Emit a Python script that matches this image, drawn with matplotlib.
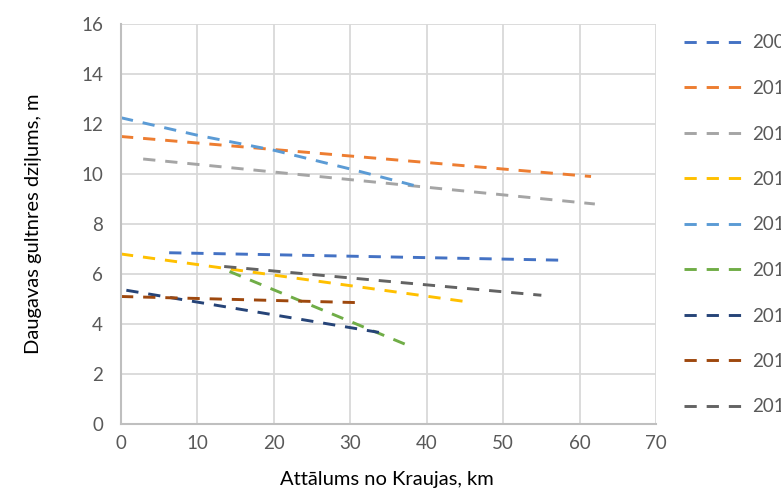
import matplotlib
matplotlib.use("Agg")
import matplotlib.pyplot as plt

plt.rcParams['font.family'] = ['Lato', 'DejaVu Sans']

# years in legend (text is cut off by the image edge, as in the original)
years = ["2009", "2010", "2011", "2012", "2013", "2014", "2015", "2016", "2017"]
colors = ["#4472C4", "#ED7D31", "#A5A5A5", "#FFC000", "#5B9BD5",
          "#70AD47", "#264478", "#9E480E", "#636363"]

# distance from Kraujas, km
x_2009 = [6.3, 58.0]
y_2009 = [6.85, 6.55]
x_2010 = [0, 61.5]
y_2010 = [11.5, 9.9]
x_2011 = [2.9, 62.0]
y_2011 = [10.6, 8.8]
x_2012 = [0, 45.0]
y_2012 = [6.8, 4.9]
x_2013 = [0, 10, 20, 30, 39.5]
y_2013 = [12.25, 11.55, 10.95, 10.2, 9.45]
x_2014 = [14.2, 38.3]
y_2014 = [6.1, 3.05]
x_2015 = [0.7, 35.0]
y_2015 = [5.35, 3.6]
x_2016 = [0, 31.6]
y_2016 = [5.1, 4.85]
x_2017 = [13.5, 55.0]
y_2017 = [6.3, 5.15]

xs = [x_2009, x_2010, x_2011, x_2012, x_2013, x_2014, x_2015, x_2016, x_2017]
ys = [y_2009, y_2010, y_2011, y_2012, y_2013, y_2014, y_2015, y_2016, y_2017]

fig = plt.figure(figsize=(7.81, 4.90), dpi=100)
ax = fig.add_axes([121/781, 66/490, 535/781, 400/490])

for xv, yv, c, lab in zip(xs, ys, colors, years):
    ax.plot(xv, yv, color=c, lw=2.1, dashes=(4.2, 3.4), label=lab)

ax.set_xlim(0, 70)
ax.set_ylim(0, 16)
ax.set_xticks(range(0, 71, 10))
ax.set_yticks(range(0, 17, 2))
ax.grid(True, color="#D9D9D9", lw=1.3)
ax.set_axisbelow(True)
for s in ["top", "right"]:
    ax.spines[s].set_visible(False)
for s in ["left", "bottom"]:
    ax.spines[s].set_color("#BFBFBF")
    ax.spines[s].set_linewidth(1.5)
ax.tick_params(length=0, labelsize=13.5, labelcolor="#595959")
ax.tick_params(axis="y", pad=13)
ax.tick_params(axis="x", pad=8)

ax.set_xlabel("Attālums no Kraujas, km", fontsize=14.5)
ax.set_ylabel("Daugavas gultnres dziļums, m", fontsize=14.5)
ax.xaxis.set_label_coords(0.497, -0.117)
ax.yaxis.set_label_coords(-0.148, 0.5)

fig.legend(loc="upper left", bbox_to_anchor=(676/781, 1 - 27/490),
           frameon=False, fontsize=13.5, labelcolor="#595959",
           handlelength=3.15, handletextpad=0.5, labelspacing=1.52,
           borderaxespad=0)

fig.savefig("out.png", dpi=100)
